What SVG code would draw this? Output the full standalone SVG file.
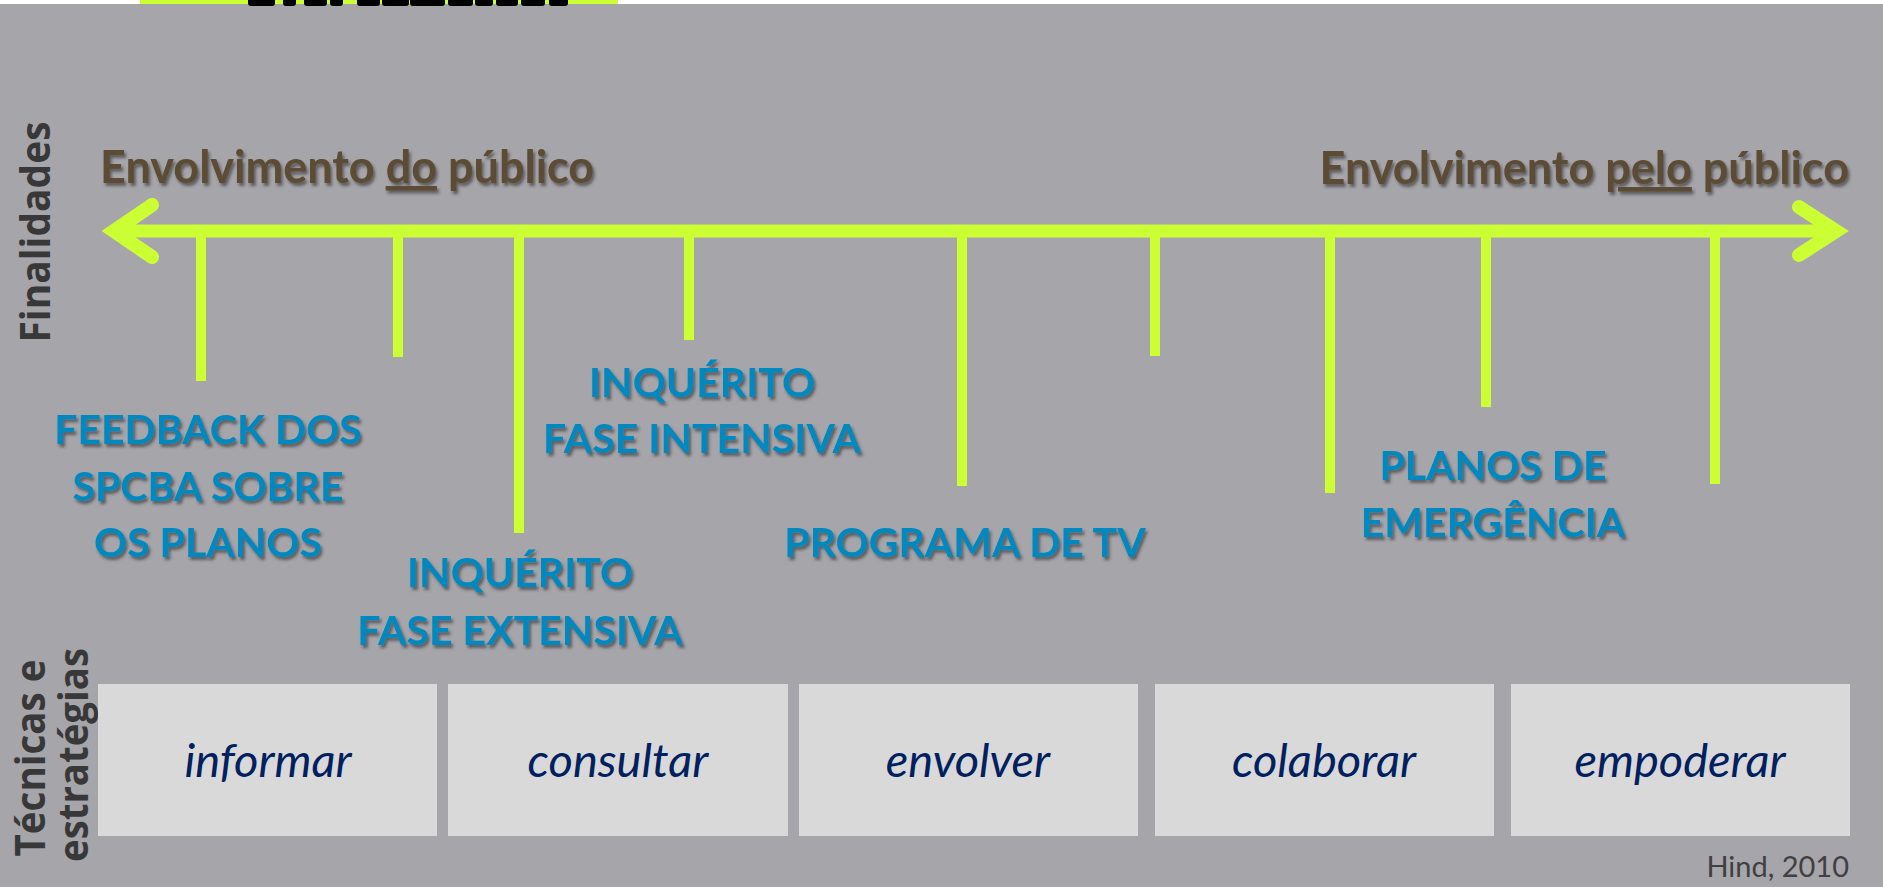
<svg xmlns="http://www.w3.org/2000/svg" width="1883" height="887" viewBox="0 0 1883 887">
<defs>
<filter id="sh" x="-10%" y="-30%" width="120%" height="160%">
<feDropShadow dx="2" dy="3" stdDeviation="1.5" flood-color="#2a2a2a" flood-opacity="0.6"/>
</filter>
<style>
.bg{fill:#a6a5aa}
.lime{fill:#ccff33}
.axis{stroke:#ccff33;stroke-width:13;fill:none}
.head{stroke:#ccff33;stroke-width:14;fill:none;stroke-linecap:round;stroke-linejoin:miter;stroke-miterlimit:10}
.tick{fill:#ccff33}
.brown{font-family:Lato,"Liberation Sans",sans-serif;font-weight:bold;font-size:45px;fill:#5c4b34}
.lbl{font-family:Lato,"Liberation Sans",sans-serif;font-weight:bold;font-size:41px;fill:#0088bf;text-anchor:middle}
.box{fill:#d9d9d9}
.btxt{font-family:Lato,"Liberation Sans",sans-serif;font-style:italic;font-size:47px;fill:#002060;text-anchor:middle}
.side{font-family:"Open Sans","DejaVu Sans",sans-serif;font-weight:bold;font-size:42px;fill:#383838;text-anchor:middle}
.cite{font-family:Lato,"Liberation Sans",sans-serif;font-size:29px;fill:#404040;text-anchor:end}
.blob{fill:#000}
</style>
</defs>
<rect class="bg" x="0" y="0" width="1883" height="887"/>
<rect x="0" y="0" width="1883" height="4" fill="#ffffff"/>
<g id="title-fragment">
<rect class="lime" x="140" y="0" width="478" height="4"/>
<rect class="blob" x="248" y="-4" width="27" height="10" rx="3"/>
<rect class="blob" x="283" y="-4" width="13" height="10" rx="3"/>
<rect class="blob" x="304" y="-4" width="23" height="10" rx="3"/>
<rect class="blob" x="330" y="-4" width="13" height="10" rx="3"/>
<rect class="blob" x="357" y="-4" width="23" height="10" rx="3"/>
<rect class="blob" x="382" y="-4" width="27" height="10" rx="3"/>
<rect class="blob" x="410" y="-4" width="35" height="10" rx="3"/>
<rect class="blob" x="448" y="-4" width="25" height="10" rx="3"/>
<rect class="blob" x="475" y="-4" width="18" height="10" rx="3"/>
<rect class="blob" x="496" y="-4" width="22" height="10" rx="3"/>
<rect class="blob" x="521" y="-4" width="24" height="10" rx="3"/>
<rect class="blob" x="549" y="-4" width="19" height="10" rx="3"/>
</g>
<g id="side-labels">
<text class="side" transform="translate(50,232) rotate(-90)" textLength="221" lengthAdjust="spacingAndGlyphs">Finalidades</text>
<text class="side" transform="translate(45,758) rotate(-90)" textLength="197" lengthAdjust="spacingAndGlyphs">Técnicas e</text>
<text class="side" transform="translate(88,755) rotate(-90)" textLength="214" lengthAdjust="spacingAndGlyphs">estratégias</text>
</g>
<g id="headings" filter="url(#sh)">
<text class="brown" x="100" y="183">Envolvimento <tspan text-decoration="underline">do</tspan> público</text>
<text class="brown" x="1849" y="184" text-anchor="end">Envolvimento <tspan text-decoration="underline">pelo</tspan> público</text>
</g>
<g id="connectors">
<line class="axis" x1="112" y1="231" x2="1838" y2="231"/>
<polyline class="head" points="152,205 114,231 152,257"/>
<polyline class="head" points="1799,207 1836,231 1799,255"/>
<rect class="tick" x="196" y="231" width="10" height="150"/>
<rect class="tick" x="393" y="231" width="10" height="126"/>
<rect class="tick" x="514" y="231" width="10" height="302"/>
<rect class="tick" x="684" y="231" width="10" height="109"/>
<rect class="tick" x="957" y="231" width="10" height="255"/>
<rect class="tick" x="1150" y="231" width="10" height="125"/>
<rect class="tick" x="1325" y="231" width="10" height="262"/>
<rect class="tick" x="1481" y="231" width="10" height="176"/>
<rect class="tick" x="1710" y="231" width="10" height="253"/>
</g>
<g id="label-feedback" filter="url(#sh)">
<text class="lbl" x="208" y="444">FEEDBACK DOS</text>
<text class="lbl" x="208" y="501">SPCBA SOBRE</text>
<text class="lbl" x="208" y="557">OS PLANOS</text>
</g>
<g id="label-inq-ext" filter="url(#sh)">
<text class="lbl" x="520" y="587">INQUÉRITO</text>
<text class="lbl" x="520" y="645">FASE EXTENSIVA</text>
</g>
<g id="label-inq-int" filter="url(#sh)">
<text class="lbl" x="702" y="397">INQUÉRITO</text>
<text class="lbl" x="702" y="453">FASE INTENSIVA</text>
</g>
<g id="label-tv" filter="url(#sh)">
<text class="lbl" x="965" y="557">PROGRAMA DE TV</text>
</g>
<g id="label-planos" filter="url(#sh)">
<text class="lbl" x="1493" y="480">PLANOS DE</text>
<text class="lbl" x="1493" y="537">EMERGÊNCIA</text>
</g>
<g id="box-informar">
<rect class="box" x="98" y="684" width="339" height="152"/>
<text class="btxt" x="268" y="777">informar</text>
</g>
<g id="box-consultar">
<rect class="box" x="448" y="684" width="340" height="152"/>
<text class="btxt" x="618" y="777">consultar</text>
</g>
<g id="box-envolver">
<rect class="box" x="799" y="684" width="339" height="152"/>
<text class="btxt" x="968" y="777">envolver</text>
</g>
<g id="box-colaborar">
<rect class="box" x="1155" y="684" width="339" height="152"/>
<text class="btxt" x="1324" y="777">colaborar</text>
</g>
<g id="box-empoderar">
<rect class="box" x="1511" y="684" width="339" height="152"/>
<text class="btxt" x="1680" y="777">empoderar</text>
</g>
<g id="citation">
<text class="cite" x="1849" y="877">Hind, 2010</text>
</g>
</svg>
